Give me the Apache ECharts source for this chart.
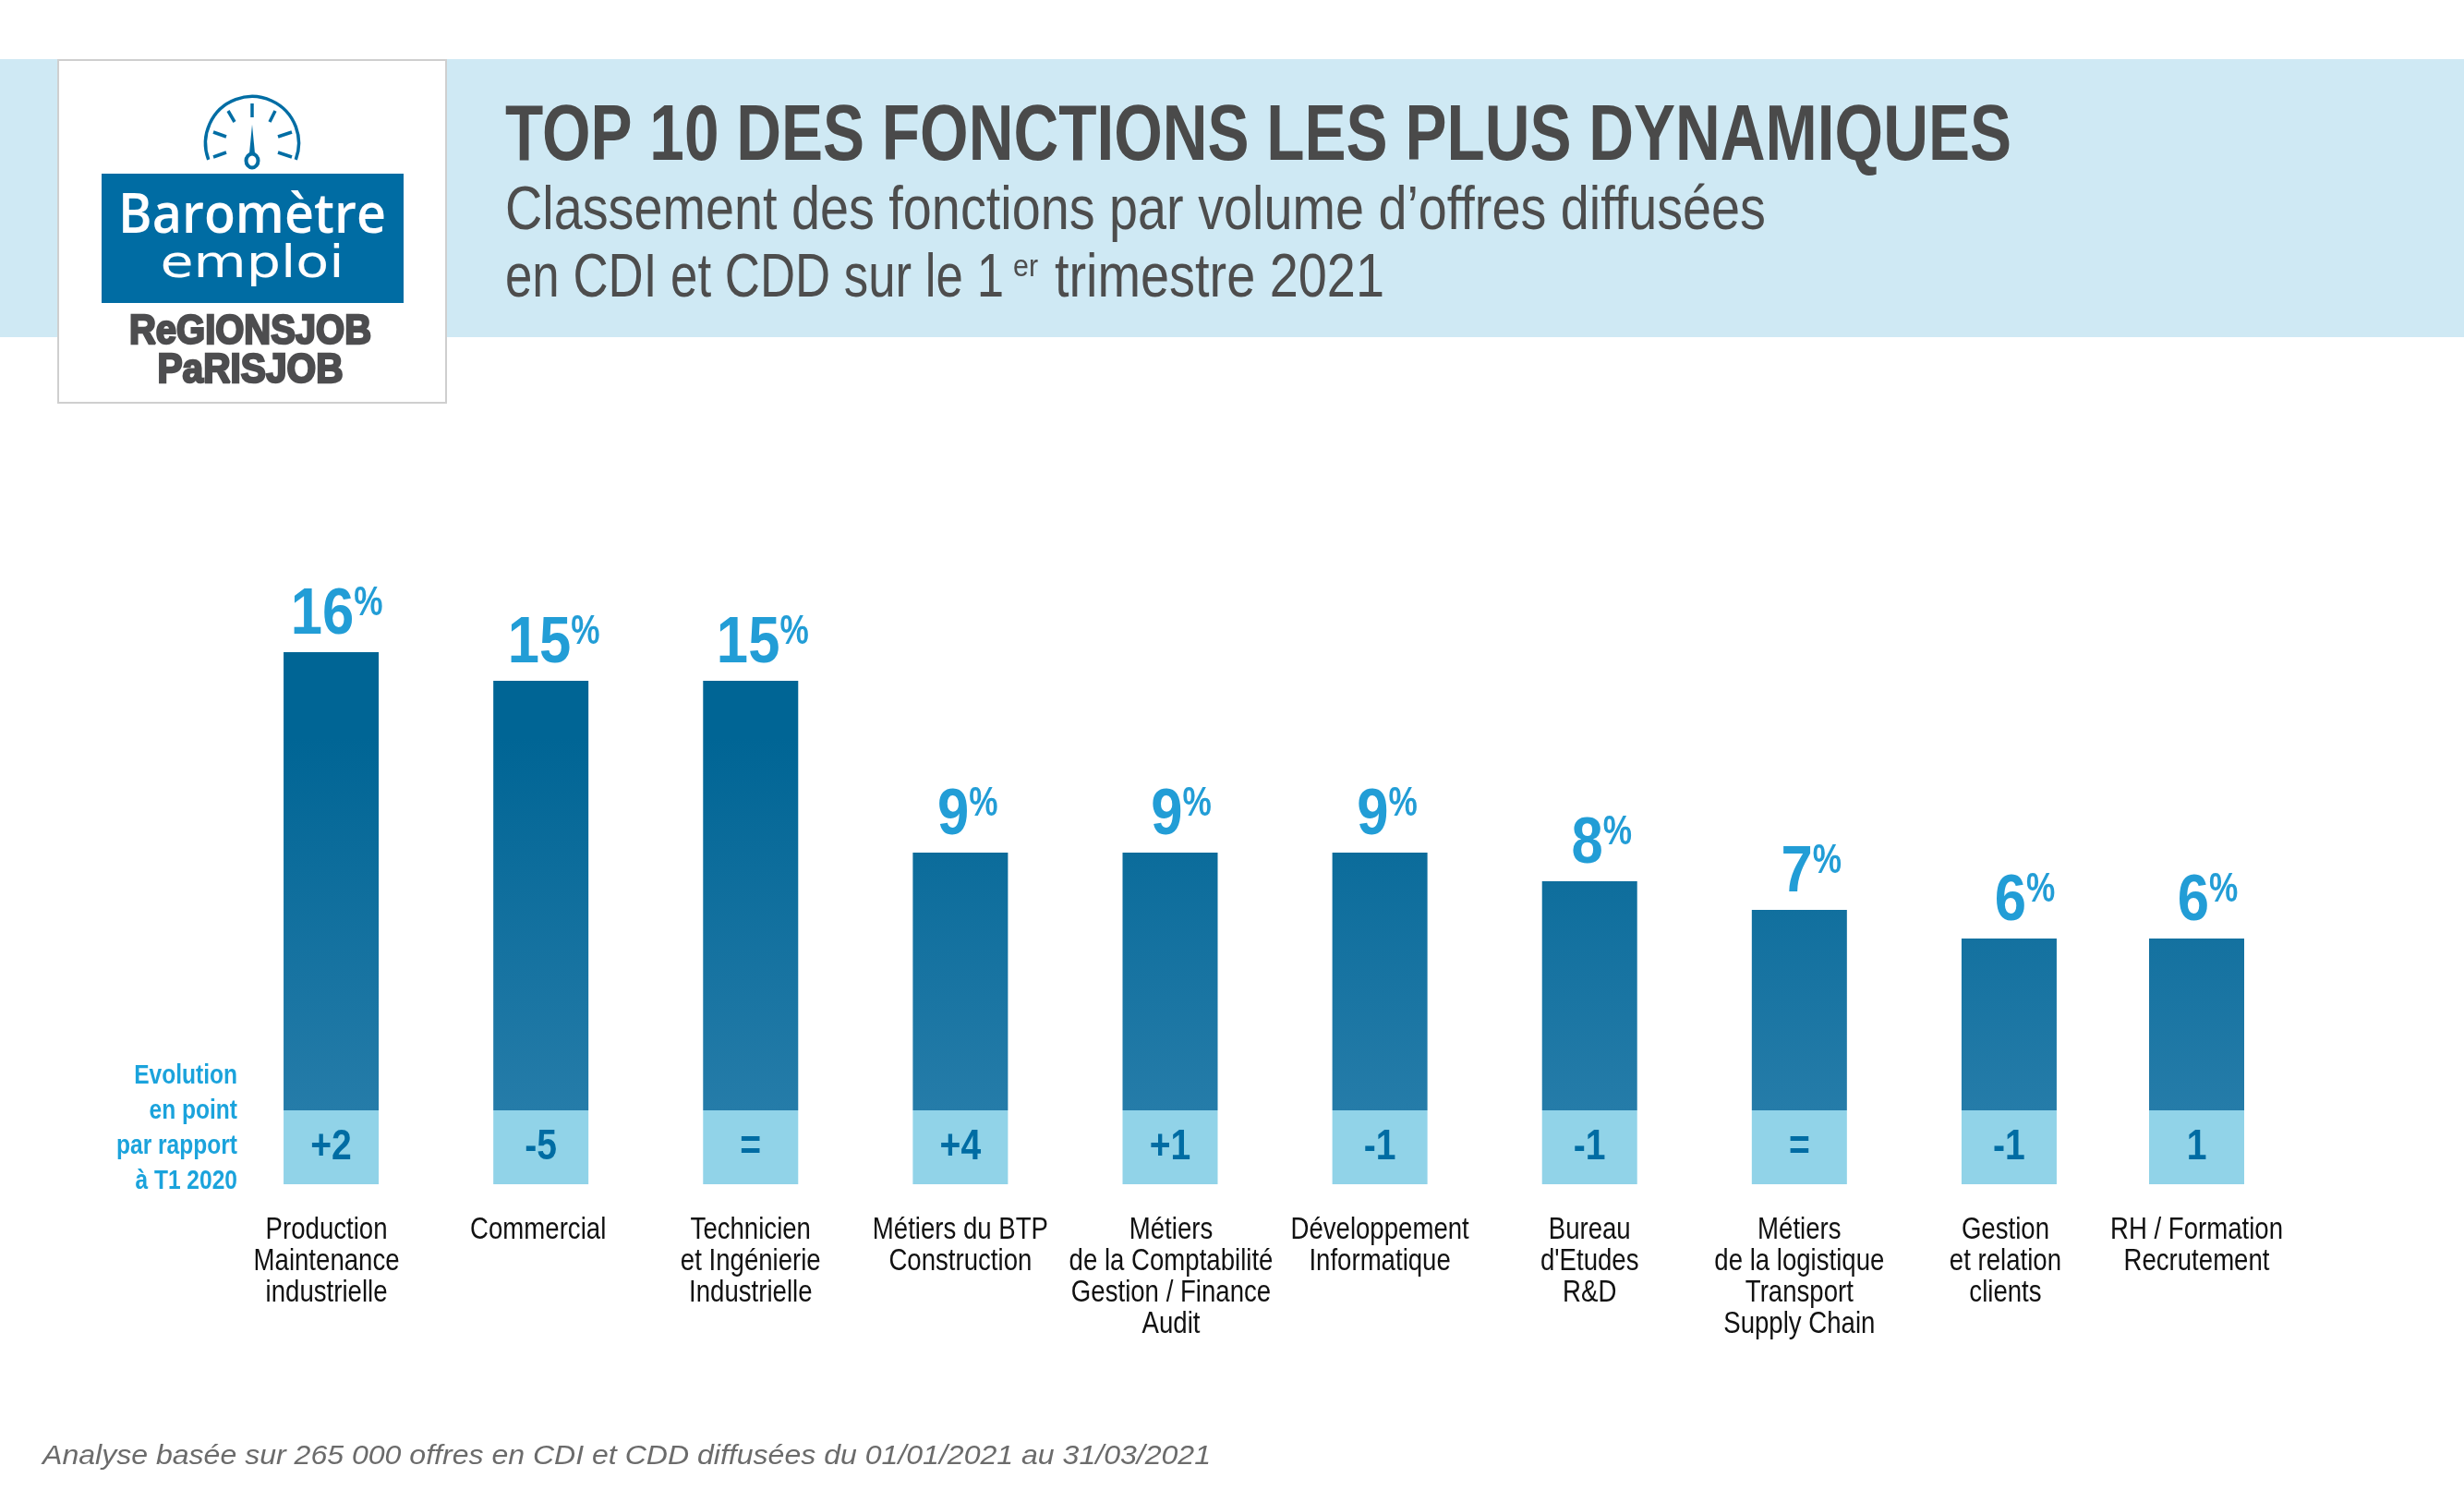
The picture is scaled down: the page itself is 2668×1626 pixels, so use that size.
<!DOCTYPE html>
<html><head><meta charset="utf-8">
<style>html,body{margin:0;padding:0;background:#fff}#c{width:2668px;height:1626px}</style>
<script src="https://cdn.jsdelivr.net/npm/echarts@6/dist/echarts.min.js"></script>
</head><body><div id="c"></div>
<script>
const categories = ["Production\nMaintenance\nindustrielle","Commercial","Technicien\net Ingénierie\nIndustrielle","Métiers du BTP\nConstruction","Métiers\nde la Comptabilité\nGestion / Finance\nAudit","Développement\nInformatique","Bureau\nd'Etudes\nR&D","Métiers\nde la logistique\nTransport\nSupply Chain","Gestion\net relation\nclients","RH / Formation\nRecrutement"];
const shares = [16,15,15,9,9,9,8,7,6,6];
const evolution = ["+2","-5","=","+4","+1","-1","-1","=","-1","1"];
const evolutionBand = [-2.58,-2.58,-2.58,-2.58,-2.58,-2.58,-2.58,-2.58,-2.58,-2.58];
const evolutionNote = ["Evolution","en point","par rapport","à T1 2020"];
const labelNudge = [-5,-3,0,0,1,0,0,0,-4,0];
const shareNudge = [6,14,13,8,12,8,13,13,17,12];
const SANS = '"Liberation Sans"';
const mctx = document.createElement('canvas').getContext('2d');
function width(text,font){mctx.font=font;return mctx.measureText(text).width;}
function fit(text,font,target){return target/width(text,font);}
const gradient = new echarts.graphic.LinearGradient(0,800,0,1202,[{offset:0,color:'#006595'},{offset:1,color:'#257ca9'}],true);

const catFont=`33px ${SANS}`, catScale=fit('Maintenance',catFont,158);
const NUM_RATIO=0.88, PCT_RATIO=0.8, numFont=`bold 70px ${SANS}`, pctFont=`bold 44px ${SANS}`;

function seriesFor(from,to,axis){
  return [{
    type:'bar',name:'Part des offres',xAxisIndex:axis,yAxisIndex:axis,stack:'s'+axis,barWidth:103,
    data:shares.slice(from,to),itemStyle:{color:gradient}
  },{
    type:'bar',name:'Evolution',xAxisIndex:axis,yAxisIndex:axis,stack:'s'+axis,barWidth:103,
    data:evolutionBand.slice(from,to),itemStyle:{color:'#91d3e8'}
  },{
    type:'custom',name:'Libellés',xAxisIndex:axis,yAxisIndex:axis,silent:true,clip:false,z:10,
    data:shares.slice(from,to).map((v,i)=>[i,v]),encode:{x:0,y:1},
    renderItem:(params,api)=>{
      const i=api.value(0), v=api.value(1), k=from+i;
      const top=api.coord([i,v]), mid=api.coord([i,evolutionBand[k]/2]), low=api.coord([i,evolutionBand[k]]);
      const num=String(v), nw=width(num,numFont)*NUM_RATIO, pw=width('%',pctFont)*PCT_RATIO;
      const start=top[0]+shareNudge[k]-(nw+pw)/2;
      return {type:'group',children:[
        {type:'text',x:start,y:top[1]-39,scaleX:NUM_RATIO,style:{text:num,align:'left',verticalAlign:'middle',font:numFont,fill:'#229dd6'}},
        {type:'text',x:start+nw,y:top[1]-52,scaleX:PCT_RATIO,style:{text:'%',align:'left',verticalAlign:'middle',font:pctFont,fill:'#229dd6'}},
        {type:'text',x:mid[0],y:mid[1],scaleX:0.85,style:{text:evolution[k],align:'center',verticalAlign:'middle',font:`bold 46px ${SANS}`,fill:'#006ca3'}},
        {type:'text',x:low[0]+labelNudge[k],y:low[1]+33,scaleX:catScale,style:{text:categories[k],align:'center',verticalAlign:'top',font:catFont,lineHeight:34,fill:'#111'}}
      ]};
    }
  }];
}
function xAxis(from,to,gi){
  return {type:'category',gridIndex:gi,data:categories.slice(from,to),
    axisLine:{show:false,onZero:false},axisTick:{show:false},axisLabel:{show:false}};
}
function yAxis(gi){return {type:'value',gridIndex:gi,min:-2.58,max:20,show:false,splitLine:{show:false}};}
const BLUE='#006da4';
function tick(x1,y1,x2,y2){return {type:'line',shape:{x1,y1,x2,y2},style:{stroke:BLUE,lineWidth:3.5}};}
function T(x,y,text,font,fill,target,extra){
  return {type:'text',x,y,scaleX:target?fit(text,font,target):1,style:Object.assign({text,font,fill,verticalAlign:'middle'},extra||{})};
}
const titleFont=`bold 86px ${SANS}`, subFont=`66px ${SANS}`, supFont=`34px ${SANS}`, noteFont=`bold 29px ${SANS}`;
const noteScale=fit('par rapport',noteFont,131);
const graphic=[
 {type:'rect',shape:{x:0,y:64,width:2668,height:301},style:{fill:'#cfe9f4'},z:-2},
 {type:'rect',shape:{x:63,y:65,width:420,height:371},style:{fill:'#fff',stroke:'#cfcfcf',lineWidth:2},z:-1},
 {type:'arc',shape:{cx:273,cy:155,r:50.5,startAngle:159.4*Math.PI/180,endAngle:380.6*Math.PI/180,clockwise:true},style:{stroke:BLUE,lineWidth:3.5,fill:null}},
 tick(273,112,273,127),tick(247,120,254,132),tick(298,120,292,132),tick(231,143,245,148),tick(316,143,301,148),tick(245,165,231,170),tick(301,165,316,170),
 {type:'polygon',shape:{points:[[273,135],[270,166],[276,166]]},style:{fill:BLUE}},
 {type:'ellipse',shape:{cx:273,cy:174,rx:6.5,ry:7.5},style:{fill:'#fff',stroke:BLUE,lineWidth:4}},
 {type:'rect',shape:{x:110,y:188,width:327,height:140},style:{fill:'#006ca3'}},
 T(273,235,'Baromètre','600 60px "Open Sans"','#fff',290,{align:'center'}),
 T(273,288,'emploi','48px "DejaVu Sans"','#fff',199,{align:'center'}),
 T(271,360,'ReGIONSJOB',`bold 44px ${SANS}`,'#4d4d4f',262,{align:'center',stroke:'#4d4d4f',lineWidth:2.5}),
 T(271,402,'PaRISJOB',`bold 44px ${SANS}`,'#4d4d4f',201,{align:'center',stroke:'#4d4d4f',lineWidth:2.5}),
 T(547,149,'TOP 10 DES FONCTIONS LES PLUS DYNAMIQUES',titleFont,'#4a4a4a',1631),
 T(547,230,'Classement des fonctions par volume d’offres diffusées',subFont,'#4d4d4d',1365),
 T(547,303,'en CDI et CDD sur le 1',subFont,'#4d4d4d',540),
 T(1097,290,'er',supFont,'#4d4d4d',27),
 T(1142,303,'trimestre 2021',subFont,'#4d4d4d',357),
 T(46,1577,'Analyse basée sur 265 000 offres en CDI et CDD diffusées du 01/01/2021 au 31/03/2021','italic 30px "Liberation Sans"','#6b6b6b',1265),
 ...evolutionNote.map((s,i)=>({type:'text',x:257,y:[1165,1203,1241,1279][i],scaleX:noteScale,style:{text:s,font:noteFont,fill:'#1ba3dc',align:'right',verticalAlign:'middle'}}))
];

const chart=echarts.init(document.getElementById('c'),null,{renderer:'canvas',width:2668,height:1626});
chart.setOption({
  animation:false,backgroundColor:'#fff',
  grid:[{left:245,top:582,width:2044,height:700},{left:2265,top:582,width:227,height:700}],
  xAxis:[xAxis(0,9,0),xAxis(9,10,1)],
  yAxis:[yAxis(0),yAxis(1)],
  series:[...seriesFor(0,9,0),...seriesFor(9,10,1)],
  graphic
});
</script></body></html>
